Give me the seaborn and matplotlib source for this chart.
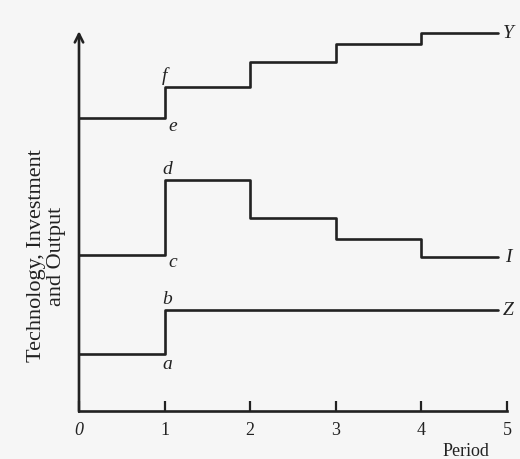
import matplotlib
matplotlib.use("Agg")
import matplotlib.pyplot as plt
import seaborn as sns
import pandas as pd

# Periods at which each series changes level, plus the end of the drawn horizon
periods = [0, 1, 2, 3, 4, 4.9]

# Output (Y): rises in every period after the innovation
output_levels = [7.75, 8.57, 9.23, 9.71, 10.0]
# Investment (I): jumps at period 1, then falls back step by step
investment_levels = [4.13, 6.11, 5.11, 4.55, 4.07]
# Technology (Z): a single permanent jump at period 1
technology_levels = [1.51, 2.67, 2.67, 2.67, 2.67]

period_ticks = [0, 1, 2, 3, 4, 5]
period_labels = ["0", "1", "2", "3", "4", "5"]

series = [
    ("Y", output_levels, ("e", "f")),
    ("I", investment_levels, ("c", "d")),
    ("Z", technology_levels, ("a", "b")),
]

sns.set_style("white")
plt.rcParams["font.family"] = ["Liberation Serif", "DejaVu Serif"]

fig = plt.figure(figsize=(5.2, 4.59), dpi=100)
fig.patch.set_facecolor("#f6f6f6")
ax = fig.add_axes([79 / 520, 48 / 459, 428 / 520, 378 / 459])
ax.set_facecolor("none")

ink = "#222222"
for name, levels, _ in series:
    df = pd.DataFrame({"period": periods, "level": levels + [levels[-1]]})
    sns.lineplot(data=df, x="period", y="level", ax=ax, color=ink, lw=1.9,
                 drawstyle="steps-post", clip_on=False, legend=False)

ax.set_xlim(0, 5)
ax.set_ylim(0, 10)

# Corner letters at the period-1 jump and curve names at the right end
letter_style = dict(fontsize=14, style="italic", color=ink,
                    ha="center", va="center", textcoords="offset pixels")
for name, levels, (low, high) in series:
    ax.annotate(low, (1, levels[0]), xytext=(8 if name != "Z" else 3,
                -8 if name != "Z" else -11), **letter_style)
    ax.annotate(high, (1, levels[1]), xytext=(3 if name != "Y" else 0, 11),
                **letter_style)
    ax.annotate(name, (periods[-1], levels[-1]), xytext=(10, 0),
                **letter_style)

# Axes: arrow on the vertical axis, plain line with inward ticks along the bottom
for side in ["top", "right", "left"]:
    ax.spines[side].set_visible(False)
ax.spines["bottom"].set_linewidth(1.9)
ax.spines["bottom"].set_color(ink)
ax.annotate("", xy=(0, 10.05), xytext=(0, -0.02),
            arrowprops=dict(arrowstyle="->,head_length=0.6,head_width=0.3",
                            lw=1.9, color=ink, shrinkA=0, shrinkB=0),
            annotation_clip=False)

ax.set_xticks(period_ticks)
ax.set_xticklabels(period_labels, fontsize=13, color=ink)
ax.get_xticklabels()[0].set_style("italic")
ax.tick_params(axis="x", direction="in", length=7, width=1.6, color=ink,
               pad=8, bottom=True)
ax.set_yticks([])

ax.set_xlabel("Period", fontsize=13, color=ink)
ax.xaxis.set_label_coords(0.905, -0.085)
ax.set_ylabel("Technology, Investment\nand Output", fontsize=16,
              color=ink, linespacing=1.05)
ax.yaxis.set_label_coords(-0.03, 0.41)

fig.savefig("out.png", dpi=100, facecolor=fig.get_facecolor())
